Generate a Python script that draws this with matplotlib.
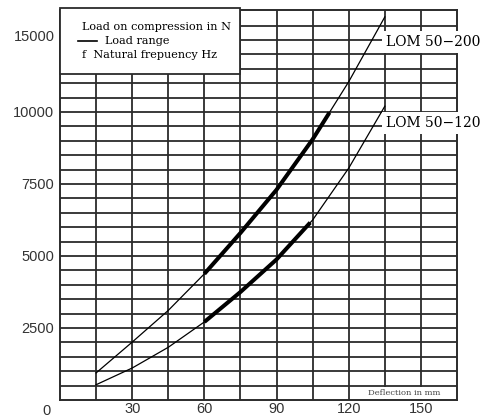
import matplotlib.pyplot as plt
from matplotlib.patches import Rectangle
from matplotlib.lines import Line2D

# deflection in mm, load in N
deflection = [15, 30, 45, 60, 75, 90, 105, 120, 135]
load_200 = [940, 2010, 3110, 4380, 5800, 7300, 9050, 11050, 13300]
load_120 = [530, 1110, 1830, 2710, 3750, 4880, 6250, 8050, 10200]

# load range (thick part)
range_defl_200 = [60, 75, 90, 105, 112]
range_load_200 = [4380, 5800, 7300, 9050, 9980]
range_defl_120 = [60, 75, 90, 104]
range_load_120 = [2710, 3750, 4880, 6160]

xticks = [30, 60, 90, 120, 150]
xlabels = ['30', '60', '90', '120', '150']
yticks = [2500, 5000, 7500, 10000, 12670]
ylabels = ['2500', '5000', '7500', '10000', '15000']

grid_x = [15, 30, 45, 60, 75, 90, 105, 120, 135, 150]
grid_y = list(range(500, 13500, 500))

fig = plt.figure(figsize=(4.81, 4.17), dpi=100)
ax = fig.add_axes([60 / 481, 17 / 417, 397 / 481, 390 / 417])

ax.set_xlim(0, 165)
ax.set_ylim(0, 13540)

gc = '#2b2b2b'
for gx in grid_x:
    ax.axvline(gx, color=gc, lw=1.3, zorder=1)
for gy in grid_y:
    ax.axhline(gy, color=gc, lw=1.3, zorder=1)
for s in ax.spines.values():
    s.set_color(gc)
    s.set_linewidth(1.4)

# curves
ax.plot(deflection, load_200, color='black', lw=0.9, zorder=4)
ax.plot(deflection, load_120, color='black', lw=0.9, zorder=4)
ax.plot(range_defl_200, range_load_200, color='black', lw=2.9, zorder=5,
        solid_capstyle='butt', solid_joinstyle='round')
ax.plot(range_defl_120, range_load_120, color='black', lw=2.9, zorder=5,
        solid_capstyle='butt', solid_joinstyle='round')

ax.set_xticks(xticks)
ax.set_xticklabels(xlabels)
ax.set_yticks(yticks)
ax.set_yticklabels(ylabels)
ax.tick_params(length=0, labelsize=10.5, labelcolor='#333333')
ax.tick_params(axis='y', pad=4)
ax.tick_params(axis='x', pad=1.5)
for lab in ax.get_xticklabels() + ax.get_yticklabels():
    lab.set_fontfamily('Liberation Sans')
ax.annotate('0', xy=(0, 0), xytext=(-10, -8), textcoords='offset points',
            ha='center', va='center', fontsize=10.5, color='#333333',
            family='Liberation Sans', annotation_clip=False)

# legend box
ax.add_patch(Rectangle((0, 11320), 75, 2300, facecolor='white',
                       edgecolor=gc, lw=1.3, zorder=6, clip_on=False))
ax.text(9.0, 12950, 'Load on compression in N', family='DejaVu Serif',
        fontsize=8.1, va='center', ha='left', zorder=7)
ax.add_line(Line2D([7.5, 15.4], [12450, 12450], color='black', lw=1.2, zorder=7))
ax.text(18.5, 12450, 'Load range', family='DejaVu Serif',
        fontsize=8.1, va='center', ha='left', zorder=7)
ax.text(9.0, 11980, 'f  Natural frepuency Hz', family='DejaVu Serif',
        fontsize=8.1, va='center', ha='left', zorder=7)

# curve labels
ax.text(135.5, 12430, 'LOM 50\u2212200', family='DejaVu Serif', fontsize=10,
        va='center', ha='left', zorder=7, clip_on=False,
        bbox=dict(facecolor='white', edgecolor='none', pad=3))
ax.text(135.5, 9620, 'LOM 50\u2212120', family='DejaVu Serif', fontsize=10,
        va='center', ha='left', zorder=7, clip_on=False,
        bbox=dict(facecolor='white', edgecolor='none', pad=3))

ax.text(143, 250, 'Deflection in mm', family='DejaVu Serif', fontsize=6,
        color='#444444', va='center', ha='center', zorder=7,
        bbox=dict(facecolor='white', edgecolor='none', pad=1.5))

fig.savefig('out.png', dpi=100)
